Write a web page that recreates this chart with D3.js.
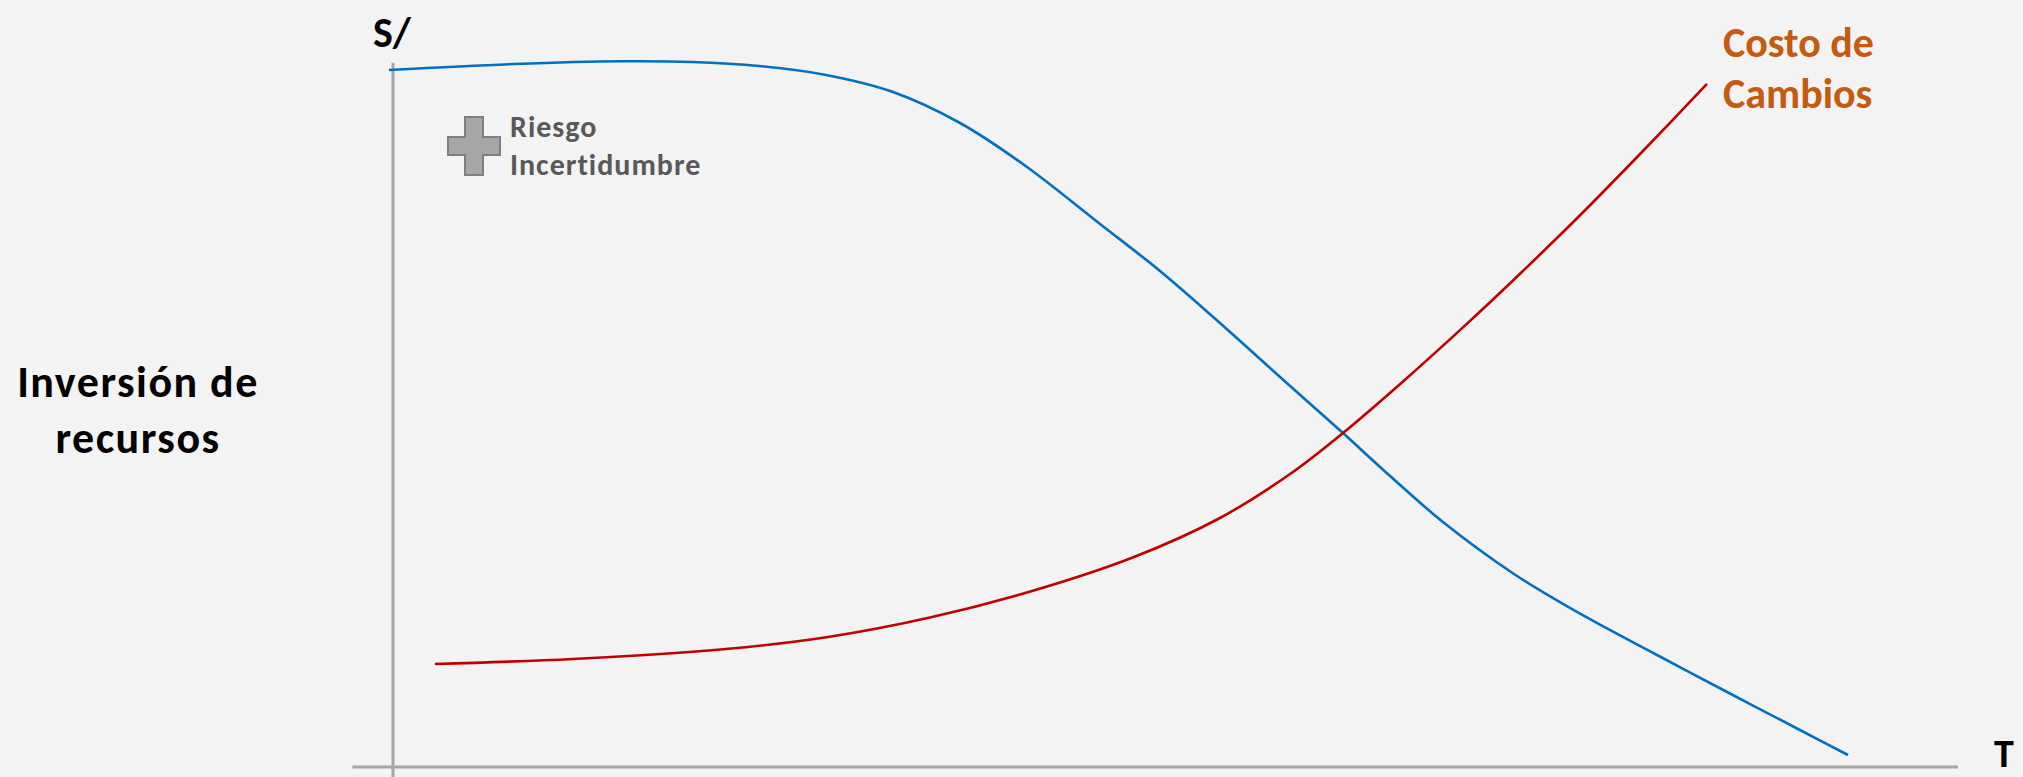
<!DOCTYPE html>
<html lang="es">
<head>
<meta charset="utf-8">
<title>Inversión de recursos vs. Costo de Cambios</title>
<script src="https://cdn.jsdelivr.net/npm/d3@7"></script>
<style>
  html, body { margin: 0; padding: 0; background: #f2f3f2; }
  svg { display: block; }
  text { font-family: Calibri, Carlito, Lato, "Open Sans", sans-serif; font-weight: bold; }
</style>
</head>
<body>
<svg id="chart" width="2023" height="777"></svg>
<script>
// Time positions (arbitrary units, 0–100)
const riskTime   = [-0.26, 7.73, 14.57, 19.11, 23.39, 27.67, 31.95, 36.23, 40.51, 45.18, 49.01, 52.84, 56.68, 60.70, 63.64, 67.09, 71.63, 76.23, 80.77, 85.37, 89.90, 92.97];
// Riesgo / Incertidumbre curve (resource level, 0–100)
const riskValue  = [98.59, 99.43, 99.82, 99.72, 99.15, 97.88, 95.47, 91.09, 84.87, 76.80, 70.16, 62.80, 55.16, 47.24, 41.30, 34.65, 27.30, 21.22, 15.84, 10.47, 5.23, 1.70];
// Costo de Cambios curve
const costTime   = [2.68, 11.50, 21.28, 27.80, 34.31, 40.83, 47.35, 52.84, 57.32, 60.70, 64.54, 68.37, 72.20, 76.04, 79.87, 83.96];
const costValue  = [14.57, 15.28, 16.69, 18.39, 21.14, 24.89, 29.70, 35.22, 41.44, 47.24, 54.54, 62.18, 70.16, 78.47, 87.13, 96.63];

// Labels
const yAxisTitle = ["Inversión de", "recursos"];
const yUnitLabel = "S/";
const xAxisLabel = "T";
const riskLabel  = ["Riesgo", "Incertidumbre"];
const costLabel  = ["Costo de", "Cambios"];

const svg = d3.select("#chart");
const W = 2023, H = 777;

const x = d3.scaleLinear().domain([0, 100]).range([393, 1958]);
const y = d3.scaleLinear().domain([0, 100]).range([767, 60]);

svg.append("rect").attr("width", W).attr("height", H).attr("fill", "#f2f3f2");

// Axes: plain grey lines crossing at the origin
const axisColor = "#a6a6a6";
svg.append("line")
  .attr("x1", x(0)).attr("x2", x(0))
  .attr("y1", y(99.6)).attr("y2", H)
  .attr("stroke", axisColor).attr("stroke-width", 3);
svg.append("line")
  .attr("x1", x(-2.6)).attr("x2", x(100))
  .attr("y1", y(0)).attr("y2", y(0))
  .attr("stroke", axisColor).attr("stroke-width", 3);

const line = d3.line()
  .x(d => x(d[0]))
  .y(d => y(d[1]))
  .curve(d3.curveCatmullRom.alpha(0.5));

const riskData = riskTime.map((t, i) => [t, riskValue[i]]);
const costData = costTime.map((t, i) => [t, costValue[i]]);

svg.append("path")
  .datum(riskData)
  .attr("d", line)
  .attr("fill", "none")
  .attr("stroke", "#0070c0")
  .attr("stroke-width", 2.6);

svg.append("path")
  .datum(costData)
  .attr("d", line)
  .attr("fill", "none")
  .attr("stroke", "#c00000")
  .attr("stroke-width", 2.6);

// Axis labels
svg.append("text")
  .attr("x", 373).attr("y", 47)
  .attr("font-size", 42).attr("fill", "#000")
  .text(yUnitLabel);

svg.append("text")
  .attr("x", 1994).attr("y", 767)
  .attr("font-size", 40).attr("fill", "#000")
  .text(xAxisLabel);

const yTitle = svg.append("text")
  .attr("text-anchor", "middle")
  .attr("font-size", 44).attr("letter-spacing", 1.5).attr("fill", "#000");
yTitle.selectAll("tspan").data(yAxisTitle).join("tspan")
  .attr("x", 138).attr("y", (d, i) => 397 + i * 56)
  .text(d => d);

// Plus icon and risk label
const plus = svg.append("g").attr("transform", "translate(474,146)");
plus.append("path")
  .attr("d", "M-9,-29 H9 V-9 H26 V9 H9 V29 H-9 V9 H-26 V-9 H-9 Z")
  .attr("fill", "#a6a6a6")
  .attr("stroke", "#7f7f7f")
  .attr("stroke-width", 2);

const rl = svg.append("text").attr("font-size", 30).attr("letter-spacing", 1).attr("fill", "#595959");
rl.selectAll("tspan").data(riskLabel).join("tspan")
  .attr("x", 510).attr("y", (d, i) => 137 + i * 38)
  .text(d => d);

const cl = svg.append("text").attr("font-size", 42).attr("fill", "#c55a11");
cl.selectAll("tspan").data(costLabel).join("tspan")
  .attr("x", 1723).attr("y", (d, i) => 57 + i * 51)
  .text(d => d);
</script>
</body>
</html>
